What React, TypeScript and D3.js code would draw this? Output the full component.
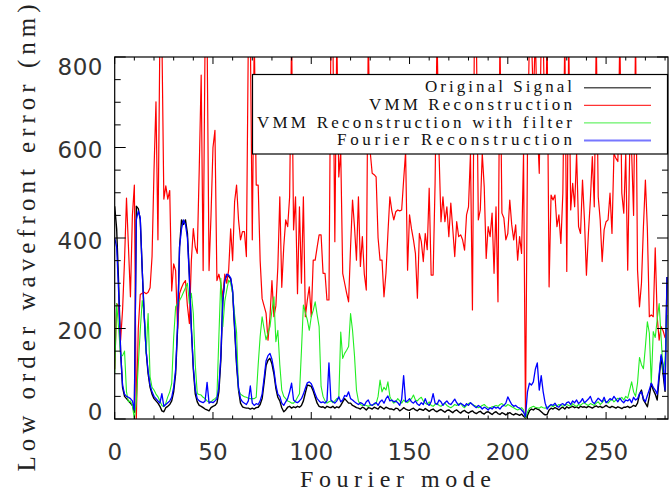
import * as d3 from "d3";

// Fourier mode index = position in each array (0..281)
const original = [
  470, 420, 300, 150, 70, 50, 45, 40, 35, 30,
  15, 470, 465, 440, 330, 230, 150, 100, 70, 55,
  45, 40, 35, 28, 18, 16, 25, 28, 32, 40,
  60, 100, 200, 380, 440, 430, 440, 410, 320, 200,
  110, 55, 38, 30, 28, 25, 22, 20, 18, 25,
  28, 30, 35, 60, 130, 260, 310, 316, 316, 310,
  280, 200, 120, 64, 35, 27, 25, 24, 24, 22,
  24, 22, 25, 26, 32, 45, 80, 118, 130, 134,
  122, 100, 68, 48, 40, 25, 16, 20, 26, 28,
  24, 27, 25, 28, 26, 30, 40, 58, 75, 74,
  72, 62, 48, 35, 28, 26, 27, 24, 28, 26,
  25, 28, 24, 27, 25, 30, 38, 45, 40, 35,
  35, 30, 28, 25, 24, 22, 26, 24, 20, 25,
  24, 22, 26, 24, 22, 28, 25, 22, 26, 24,
  22, 22, 20, 24, 23, 18, 21, 25, 22, 20,
  19, 22, 24, 20, 18, 22, 21, 19, 23, 20,
  17, 20, 22, 18, 16, 19, 21, 18, 15, 19,
  20, 17, 14, 18, 20, 16, 13, 17, 19, 15,
  13, 16, 18, 14, 12, 15, 17, 13, 11, 15,
  16, 13, 10, 14, 16, 12, 10, 14, 12, 9,
  12, 14, 11, 9, 12, 10, 8, 11, 6, 2,
  8, 18, 22, 20, 24, 22, 20, 16, 12, 9,
  10, 20, 24, 22, 25, 23, 20, 24, 26, 22,
  27, 24, 26, 28, 25, 27, 24, 28, 26, 27,
  25, 28, 26, 24, 27, 29, 26, 28, 25, 27,
  30, 27, 25, 28, 26, 24, 27, 25, 23, 26,
  26, 28, 25, 27, 30, 28, 35, 55, 64, 42,
  35, 27, 50, 79, 64, 55, 42, 90, 138, 100,
  61, 314,
];

const vmm = [
  110, 255, 250, 174, 241, 350, 488, 380, 270, 450,
  517, 0, 200, 275, 278, 280, 277, 280, 290, 359,
  550, 701, 396, 850, 850, 486, 515, 486, 505, 283,
  343, 328, 200, 277, 290, 300, 306, 250, 211, 350,
  421, 380, 366, 550, 760, 328, 850, 850, 328, 450,
  600, 638, 306, 320, 300, 270, 320, 300, 330, 420,
  350, 480, 517, 440, 396, 414, 414, 359, 850, 850,
  396, 850, 517, 517, 350, 266, 250, 234, 174, 226,
  306, 226, 250, 336, 491, 291, 380, 440, 425, 491,
  850, 418, 491, 277, 469, 300, 491, 226, 263, 292,
  226, 351, 351, 380, 407, 407, 322, 322, 263, 263,
  850, 850, 392, 850, 535, 590, 322, 300, 278, 259,
  380, 484, 425, 351, 491, 337, 403, 320, 285, 850,
  590, 543, 540, 535, 400, 351, 351, 270, 322, 410,
  491, 460, 440, 458, 462, 460, 462, 528, 590, 329,
  451, 420, 396, 366, 267, 410, 392, 348, 410, 374,
  510, 318, 318, 521, 850, 590, 436, 491, 436, 469,
  403, 477, 420, 359, 436, 403, 407, 396, 373, 451,
  469, 587, 241, 850, 850, 440, 462, 587, 513, 355,
  425, 403, 455, 322, 469, 259, 850, 455, 444, 396,
  410, 484, 429, 396, 429, 351, 403, 366, 587, 0,
  590, 850, 850, 700, 850, 650, 543, 850, 850, 590,
  850, 292, 495, 484, 495, 425, 451, 388, 499, 850,
  326, 850, 462, 521, 469, 587, 425, 410, 528, 440,
  318, 410, 484, 580, 469, 850, 491, 440, 348, 418,
  436, 440, 499, 410, 587, 576, 569, 850, 499, 455,
  587, 329, 590, 590, 450, 850, 329, 248, 300, 425,
  528, 420, 226, 230, 226, 378, 226, 174, 204, 195,
  180, 200,
];

const vmmFiltered = [
  100, 255, 200, 140, 140, 150, 60, 38, 40, 30,
  0, 40, 120, 196, 262, 233, 145, 233, 93, 70,
  64, 55, 49, 40, 30, 27, 35, 49, 60, 79,
  180, 248, 255, 262, 270, 280, 290, 300, 255, 278,
  233, 120, 56, 54, 53, 48, 45, 40, 38, 38,
  42, 45, 49, 182, 311, 204, 260, 285, 307, 300,
  278, 230, 192, 64, 55, 52, 49, 48, 46, 45,
  45, 45, 48, 120, 182, 226, 200, 175, 190, 204,
  240, 270, 171, 196, 120, 64, 50, 45, 40, 38,
  35, 35, 40, 48, 56, 150, 252, 235, 219, 196,
  226, 240, 259, 230, 204, 72, 50, 40, 35, 38,
  40, 36, 40, 45, 45, 192, 134, 145, 152, 160,
  233, 196, 140, 64, 40, 32, 30, 31, 30, 28,
  30, 31, 32, 34, 50, 86, 60, 70, 64, 82,
  50, 40, 35, 38, 45, 40, 35, 42, 38, 36,
  40, 45, 53, 42, 40, 45, 48, 40, 35, 32,
  38, 30, 28, 32, 35, 30, 28, 32, 35, 30,
  27, 25, 28, 32, 30, 33, 35, 28, 25, 30,
  34, 36, 32, 30, 28, 25, 27, 30, 32, 28,
  25, 24, 27, 28, 30, 28, 32, 34, 30, 28,
  32, 30, 27, 25, 22, 20, 22, 25, 20, 2,
  15, 24, 26, 28, 26, 25, 24, 27, 25, 24,
  26, 28, 30, 27, 31, 29, 32, 30, 28, 30,
  32, 30, 28, 34, 30, 28, 32, 30, 34, 36,
  32, 30, 34, 32, 30, 35, 38, 32, 36, 42,
  38, 35, 40, 44, 38, 42, 46, 44, 48, 42,
  50, 46, 64, 82, 60, 50, 80, 136, 120, 111,
  160, 215, 190, 79, 193, 180, 220, 255, 180, 104,
  130, 230,
];

const fourier = [
  400, 380, 280, 150, 75, 55, 50, 48, 45, 40,
  20, 440, 460, 445, 330, 230, 150, 105, 75, 60,
  50, 45, 40, 35, 56, 28, 32, 36, 40, 48,
  70, 110, 210, 380, 420, 440, 430, 400, 310, 200,
  115, 65, 45, 40, 38, 36, 40, 81, 35, 38,
  36, 40, 45, 70, 140, 265, 305, 320, 318, 312,
  285, 205, 125, 70, 45, 38, 35, 32, 40, 73,
  35, 30, 34, 32, 40, 55, 90, 128, 140, 145,
  132, 108, 75, 55, 50, 35, 30, 38, 45, 60,
  79, 42, 38, 36, 40, 45, 55, 68, 80, 82,
  78, 68, 55, 45, 40, 36, 38, 35, 40, 124,
  42, 38, 35, 40, 49, 38, 42, 52, 50, 60,
  45, 42, 38, 35, 32, 36, 34, 30, 38, 42,
  32, 30, 34, 36, 30, 38, 42, 35, 45, 51,
  40, 42, 38, 40, 36, 30, 44, 96, 38, 40,
  45, 38, 35, 40, 33, 30, 36, 32, 45, 34,
  30, 38, 56, 35, 32, 42, 38, 30, 36, 40,
  34, 32, 38, 44, 36, 30, 35, 32, 28, 34,
  30, 36, 32, 28, 25, 30, 27, 22, 26, 24,
  20, 25, 22, 27, 24, 26, 22, 28, 30, 35,
  49, 40, 32, 28, 30, 26, 24, 20, 15, 5,
  60, 79, 75, 82, 110, 124, 64, 96, 60, 35,
  22, 28, 32, 30, 35, 28, 26, 32, 34, 30,
  36, 38, 32, 40, 36, 42, 34, 38, 45, 36,
  40, 44, 50, 38, 34, 40, 46, 42, 38, 48,
  36, 40, 45, 42, 50, 44, 38, 46, 40, 36,
  42, 40, 44, 36, 48, 42, 45, 56, 60, 45,
  38, 52, 65, 79, 70, 64, 55, 100, 142, 120,
  64, 314,
];

const xTicks = [0, 50, 100, 150, 200, 250];
const yTicks = [0, 200, 400, 600, 800];

const series = [
  { name: "Original Signal", values: original, color: "#000000", width: 1.4, key: "#555555", keyWidth: 1.4 },
  { name: "VMM Reconstruction", values: vmm, color: "#ff0000", width: 1.2, key: "#ff0000", keyWidth: 1 },
  { name: "VMM Reconstruction with filter", values: vmmFiltered, color: "#22ee22", width: 1.1, key: "#44ee44", keyWidth: 1 },
  { name: "Fourier Reconstruction", values: fourier, color: "#0000ff", width: 1.3, key: "#7777ff", keyWidth: 2 },
];
// widths the legend labels take in the picture
const legendWidths = [147, 203, 315, 235];

const W = 670;
const H = 493;
const left = 114.7;
const right = 668;
const top = 57;
const bottom = 419;

export default function App() {
  const x = d3.scaleLinear().domain([0, 281.5]).range([left, right]);
  const y = d3.scaleLinear().domain([0, 800]).range([bottom, top]);
  const line = d3
    .line<number>()
    .x((_, i) => x(i))
    .y((d) => y(d));

  const xMinor = d3.range(0, 281, 10);
  const yMinor = d3.range(0, 801, 50);
  const tickFont = { fontFamily: "DejaVu Sans", fontSize: 23, fill: "#333" };
  const serif = "Liberation Serif";

  return (
    <svg
      width={W}
      height={H}
      style={{ position: "absolute", left: 0, top: 0, background: "#fff" }}
    >
      <defs>
        <clipPath id="plot">
          <rect x={left} y={top} width={right - left} height={bottom - top} />
        </clipPath>
      </defs>

      <g clipPath="url(#plot)" fill="none" strokeLinejoin="round">
        {series.map((s) => (
          <path key={s.name} d={line(s.values) || ""} stroke={s.color} strokeWidth={s.width} />
        ))}
      </g>

      {/* frame + ticks */}
      <rect x={left} y={top} width={right - left} height={bottom - top} fill="none" stroke="#000" strokeWidth={1.2} />
      <g stroke="#000" strokeWidth={1}>
        {xMinor.map((t) => {
          const len = t % 50 === 0 ? 7 : 3.5;
          return (
            <g key={"x" + t}>
              <line x1={x(t)} x2={x(t)} y1={bottom} y2={bottom - len} />
              <line x1={x(t)} x2={x(t)} y1={top} y2={top + len} />
            </g>
          );
        })}
        {yMinor.map((t) => {
          const len = t % 200 === 0 ? 11 : 6;
          return (
            <g key={"y" + t}>
              <line x1={left} x2={left + len} y1={y(t)} y2={y(t)} />
              <line x1={right} x2={right - len} y1={y(t)} y2={y(t)} />
            </g>
          );
        })}
      </g>

      {xTicks.map((t) => (
        <text key={"xl" + t} x={x(t)} y={459.5} textAnchor="middle" {...tickFont}>
          {t}
        </text>
      ))}
      {yTicks.map((t) => (
        <text
          key={"yl" + t}
          x={103}
          y={y(t) + (t === 800 ? 17.5 : t === 0 ? 0.5 : 10.5)}
          textAnchor="end"
          letterSpacing={0.5}
          {...tickFont}
        >
          {t}
        </text>
      ))}

      <text
        x={395.5 - 95.5}
        y={487}
        fontFamily={serif}
        fontSize={24}
        fill="#222"
        textLength={191}
        lengthAdjust="spacing"
      >
        Fourier mode
      </text>
      <text
        transform={`translate(35,${238 + 233.5}) rotate(-90)`}
        fontFamily={serif}
        fontSize={25}
        fill="#222"
        textLength={467}
        lengthAdjust="spacing"
      >
        Low order wavefront error (nm)
      </text>

      {/* legend */}
      <rect x={252.5} y={74.5} width={415} height={79.5} fill="#fff" stroke="#000" strokeWidth={1.2} />
      {series.map((s, i) => (
        <g key={"lg" + s.name}>
          <text
            x={572 - legendWidths[i]}
            y={92.3 + i * 17.6}
            fontFamily={serif}
            fontSize={17}
            fill="#111"
            textLength={legendWidths[i]}
            lengthAdjust="spacing"
          >
            {s.name}
          </text>
          <line
            x1={584}
            x2={651}
            y1={87.7 + i * 17.6}
            y2={87.7 + i * 17.6}
            stroke={s.key}
            strokeWidth={s.keyWidth}
          />
        </g>
      ))}
    </svg>
  );
}
